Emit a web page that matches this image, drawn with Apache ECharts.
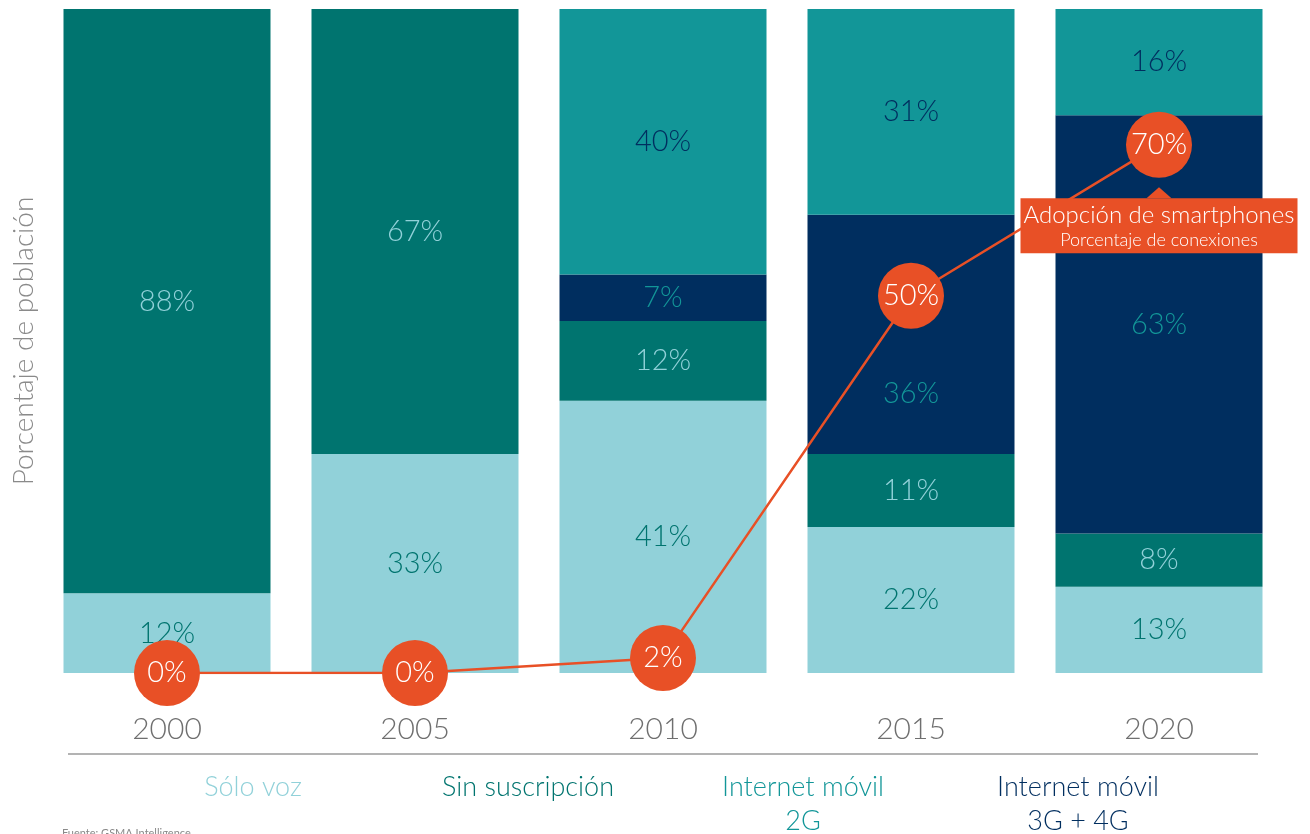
<!DOCTYPE html>
<html>
<head>
<meta charset="utf-8">
<script src="https://cdn.jsdelivr.net/npm/echarts@6/dist/echarts.min.js"></script>
<style>
    html, body { margin: 0; padding: 0; background: #fff; }
    #chart { width: 1310px; height: 834px; }
</style>
</head>
<body>
<div id="chart"></div>
<script>
// Data
const years = ['2000', '2005', '2010', '2015', '2020'];
const soloVoz = [12, 33, 41, 22, 13];
const sinSuscripcion = [88, 67, 12, 11, 8];
const movil3g4g = [0, 0, 7, 36, 63];
const movil2g = [0, 0, 40, 31, 16];
const smartphones = [0, 0, 2, 50, 70];
const legendLabels = ['Sólo voz', 'Sin suscripción', 'Internet móvil\n2G', 'Internet móvil\n3G + 4G'];
const annotation = ['Adopción de smartphones', 'Porcentaje de conexiones'];
const source = 'Fuente: GSMA Intelligence';

// Colours
const LIGHT = '#91d1d9';
const DARK_TEAL = '#00746f';
const TEAL = '#129698';
const NAVY = '#002e5f';
const ORANGE = '#e85026';
const FONT = 'Lato';

// labelShift: nudge a label (by category index) so it clears the smartphone circles
function barSeries(name, values, color, labelColor, labelShift) {
    return {
        name: name,
        type: 'bar',
        stack: 'total',
        data: values.map((v, i) => (labelShift && labelShift[i])
            ? { value: v, label: { offset: [0, labelShift[i]] } }
            : v),
        barWidth: 207,
        itemStyle: { color: color },
        label: {
            show: true,
            position: 'inside',
            color: labelColor,
            fontFamily: FONT,
            fontWeight: 300,
            fontSize: 29,
            formatter: p => p.value ? p.value + '%' : ''
        },
        emphasis: { disabled: true }
    };
}

const chart = echarts.init(document.getElementById('chart'));

// Legend texts sit under the axis rule, coloured like their series
const legendColors = [LIGHT, DARK_TEAL, TEAL, NAVY];
const legendX = [253, 528, 803, 1078];
const legendGraphics = legendLabels.map((t, i) => ({
    type: 'text',
    x: legendX[i],
    y: 770,
    style: {
        text: t,
        fill: legendColors[i],
        font: '300 27px ' + FONT,
        textAlign: 'center',
        lineHeight: 34
    }
}));

chart.setOption({
    animation: false,
    grid: { left: 43, right: 27, top: 9, bottom: 161, outerBoundsMode: 'none' },
    xAxis: {
        type: 'category',
        data: years,
        axisLine: { show: false },
        axisTick: { show: false },
        axisLabel: {
            margin: 41,
            color: '#6f6f6f',
            fontFamily: FONT,
            fontWeight: 300,
            fontSize: 30
        }
    },
    yAxis: [{
        type: 'value',
        min: 0,
        max: 100,
        name: 'Porcentaje de población',
        nameLocation: 'middle',
        nameRotate: 90,
        nameGap: 5,
        nameTextStyle: { color: '#8a8a8a', fontFamily: FONT, fontWeight: 300, fontSize: 28 },
        axisLine: { show: false },
        axisTick: { show: false },
        axisLabel: { show: false },
        splitLine: { show: false }
    }, {
        type: 'value',
        min: 0,
        max: 88,
        show: false
    }],
    series: [
        barSeries(legendLabels[0], soloVoz, LIGHT, DARK_TEAL),
        barSeries(legendLabels[1], sinSuscripcion, DARK_TEAL, LIGHT),
        barSeries(legendLabels[3], movil3g4g, NAVY, TEAL, { 3: 59 }),
        barSeries(legendLabels[2], movil2g, TEAL, NAVY),
        {
            name: annotation[0],
            type: 'line',
            yAxisIndex: 1,
            data: smartphones,
            z: 5,
            symbol: 'circle',
            symbolSize: 66,
            lineStyle: { color: ORANGE, width: 2.5 },
            itemStyle: { color: ORANGE },
            label: {
                show: true,
                position: 'inside',
                color: '#fff',
                fontFamily: FONT,
                fontWeight: 300,
                fontSize: 29,
                formatter: '{c}%'
            },
            emphasis: { disabled: true },
            markPoint: {
                silent: true,
                z: 20,
                data: [{
                    coord: ['2020', 70],
                    symbol: 'triangle',
                    symbolSize: [25, 11],
                    symbolOffset: [0, 48],
                    itemStyle: { color: ORANGE },
                    label: { show: false }
                }, {
                    coord: ['2020', 70],
                    symbol: 'rect',
                    symbolSize: [277, 55],
                    symbolOffset: [0, 81],
                    itemStyle: { color: ORANGE },
                    label: {
                        show: true,
                        position: 'inside',
                        formatter: '{a|' + annotation[0] + '}\n{b|' + annotation[1] + '}',
                        rich: {
                            a: { color: '#fff', fontFamily: FONT, fontWeight: 300, fontSize: 24, lineHeight: 28, align: 'center' },
                            b: { color: '#fff', fontFamily: FONT, fontWeight: 300, fontSize: 18, lineHeight: 22, align: 'center' }
                        }
                    }
                }]
            }
        }
    ],
    graphic: [
        {
            type: 'line',
            shape: { x1: 68, y1: 754, x2: 1258, y2: 754 },
            style: { stroke: '#9a9a9a', lineWidth: 1.5 }
        },
        ...legendGraphics,
        {
            type: 'text',
            x: 62,
            y: 828,
            style: { text: source, fill: '#8a8a8a', font: '11px ' + FONT }
        }
    ]
});
</script>
</body>
</html>
